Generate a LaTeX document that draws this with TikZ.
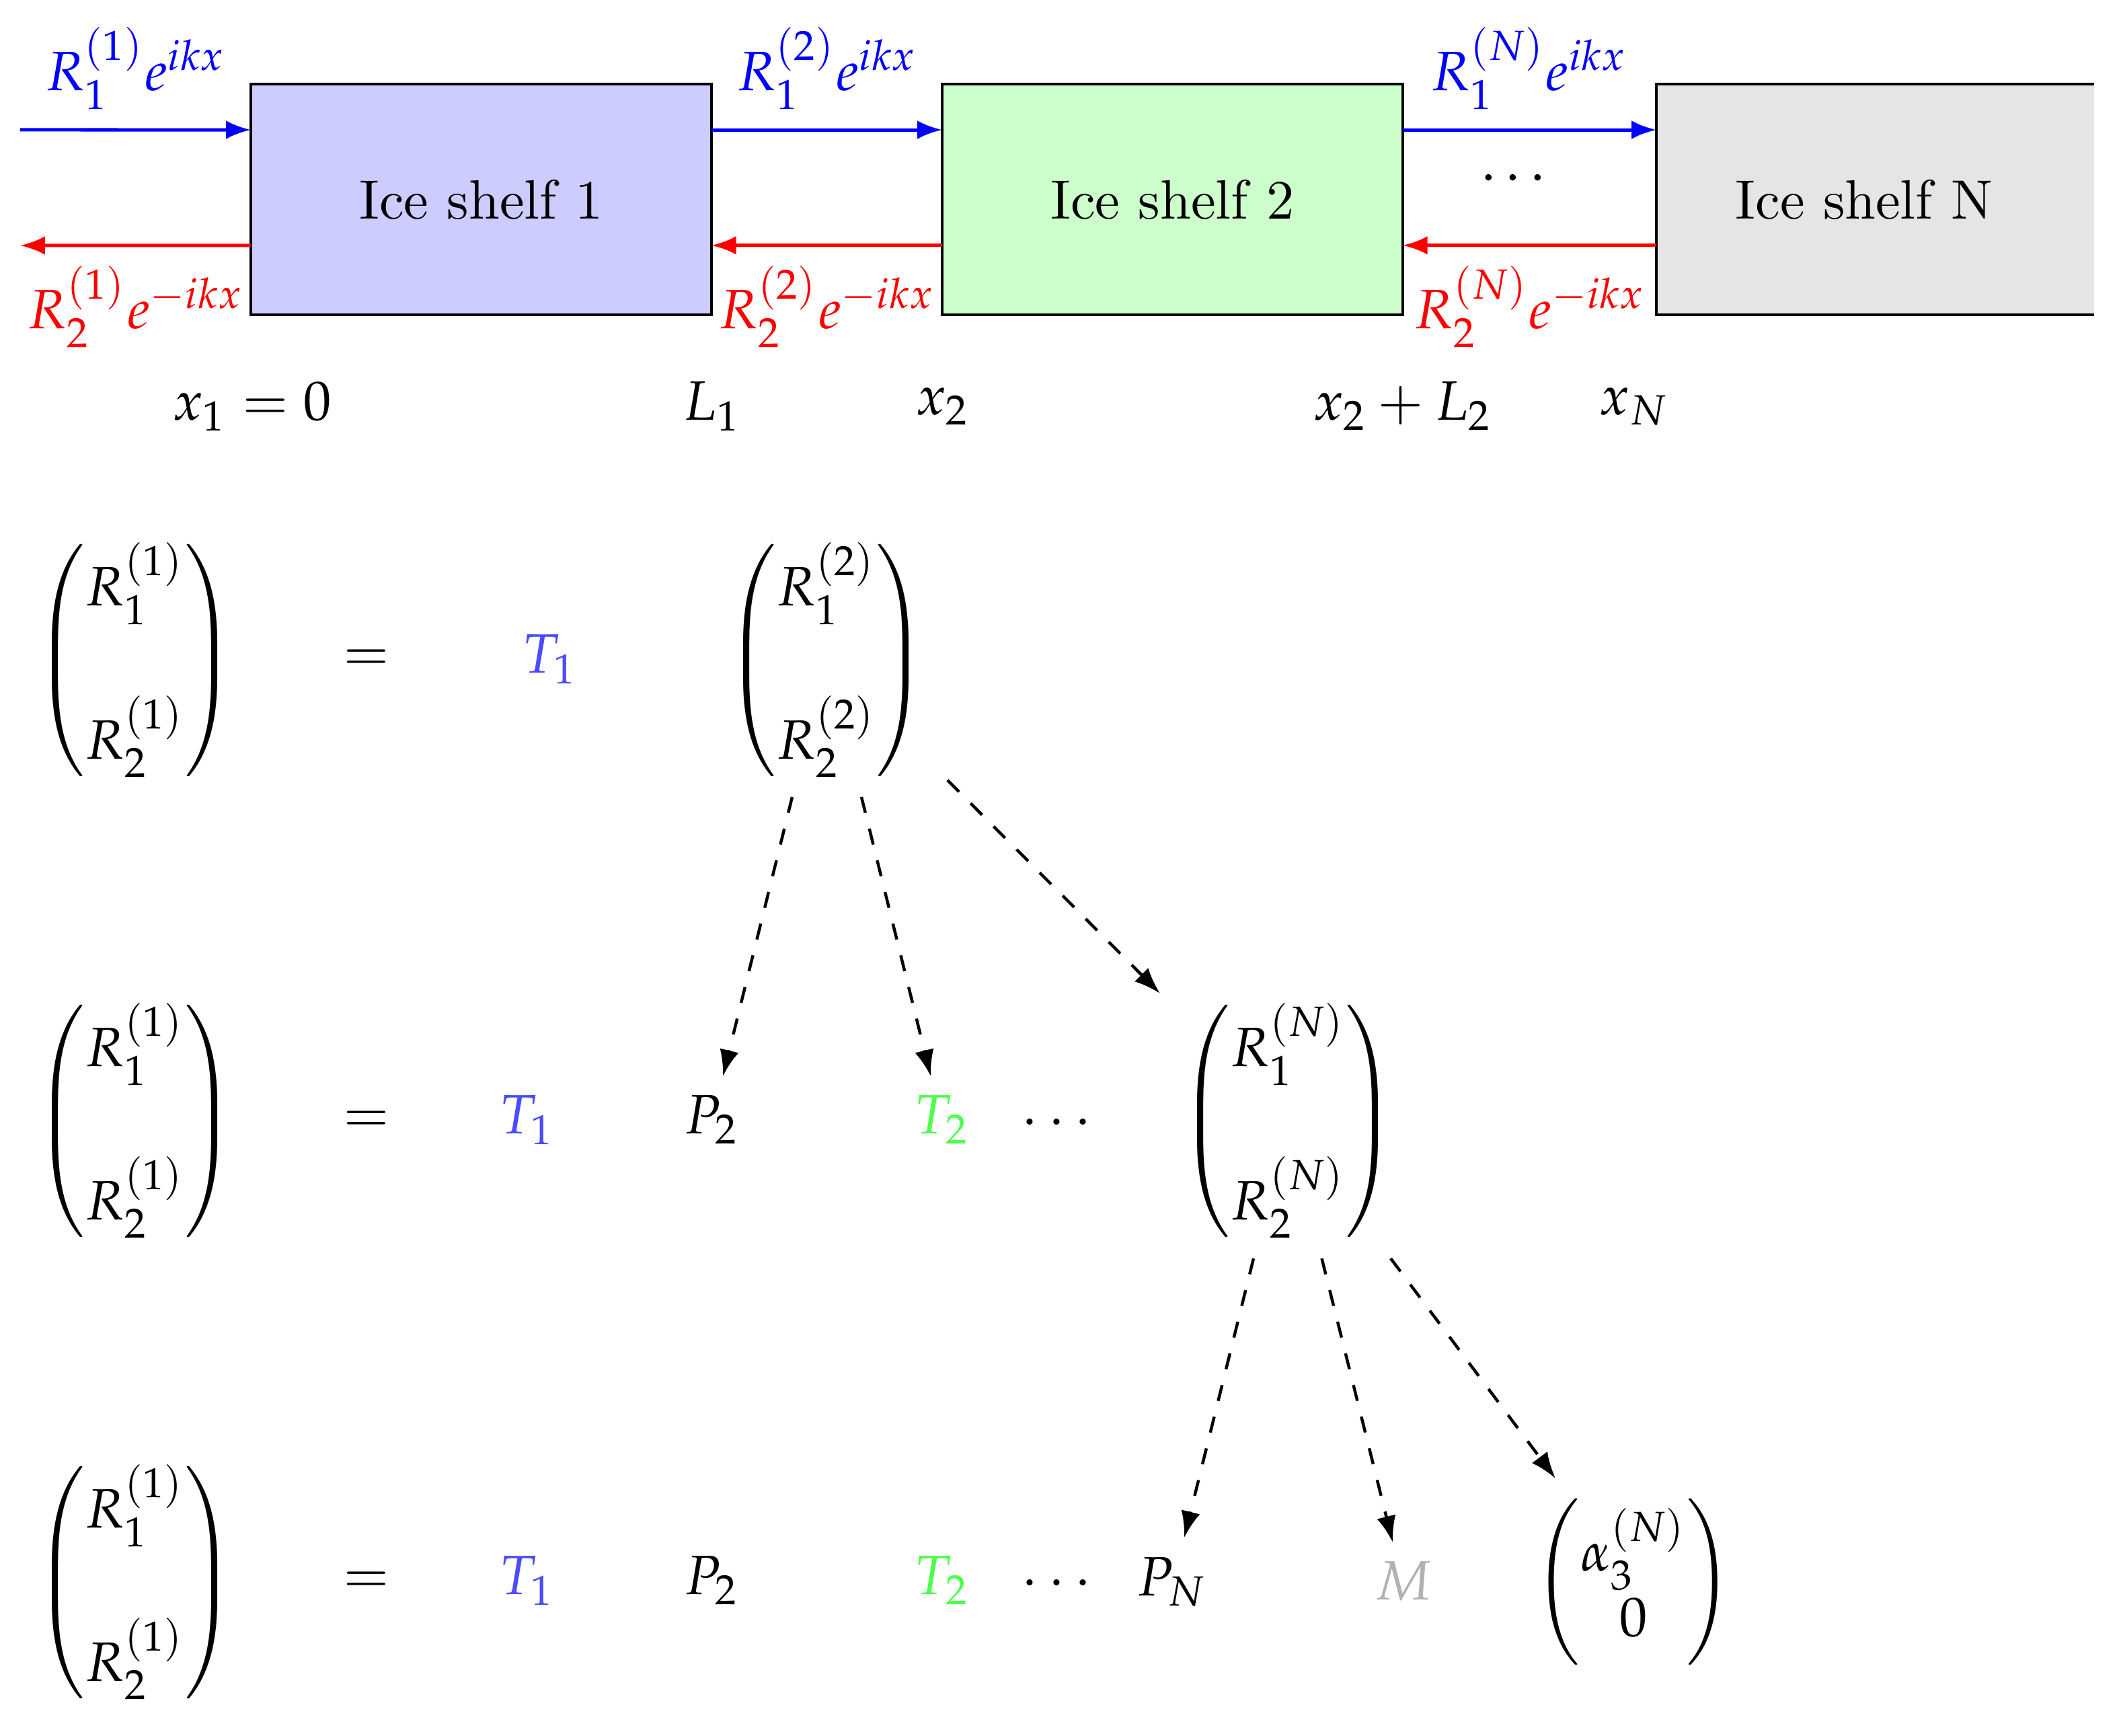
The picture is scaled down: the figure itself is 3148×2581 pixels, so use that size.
\documentclass[tikz,border=0pt]{standalone}
\usepackage{amsmath}
\usepackage{mathpazo}
\usetikzlibrary{arrows.meta}
\tikzset{
  x=0.0043478cm,y=-0.0043478cm,
  every node/.style={font=\fontsize{10.2}{12}\selectfont,inner sep=0pt,outer sep=0pt},
  shelf/.style={minimum width=2.978cm,minimum height=1.491cm,draw=black,line width=0.5pt,anchor=north west},
  wave/.style={line width=0.62pt,-{Latex[length=1.6mm,width=1.2mm]}},
  lead/.style={wave,blue},
  back/.style={wave,red},
  dasharrow/.style={line width=0.55pt,dash pattern=on 3pt off 3pt,-{Latex[length=1.7mm,width=1.25mm]}},
}
\definecolor{mgray}{gray}{0.7}
\newcommand{\vecR}[1]{\left(\vcenter{\hbox{\rule{0pt}{41.5pt}}}\begin{matrix}R_1^{(#1)}\\[13pt]R_2^{(#1)}\end{matrix}\right)}
\begin{document}
\begin{tikzpicture}
\useasboundingbox (0,0) rectangle (3148,2581);
% ice shelves
\node[shelf,fill=blue!20] (s1) at (373,125) {};
\node at (s1.center) (s1t) {Ice shelf 1};
\node[shelf,fill=green!20] (s2) at (1401,125) {};
\node at (s2.center) (s2t) {Ice shelf 2};
\node[shelf,draw=none,fill=black!10,minimum width=2.830cm] (sN) at (2463,125) {};
\draw[line width=0.5pt] (sN.north east) -- (sN.north west) -- (sN.south west) -- (sN.south east);
\node (sNt) at (2772,297) {Ice shelf N};
% free ends and contact points
\coordinate (in) at (30,193);
\coordinate (out) at (30,365);
\coordinate (s1ib) at ([yshift=-0.296cm]s1.north west);
\coordinate (s1ob) at ([yshift=-0.296cm]s1.north east);
\coordinate (s2ib) at ([yshift=-0.296cm]s2.north west);
\coordinate (s2ob) at ([yshift=-0.296cm]s2.north east);
\coordinate (sNib) at ([yshift=-0.296cm]sN.north west);
\coordinate (s1ir) at ([yshift=0.448cm]s1.south west);
\coordinate (s1or) at ([yshift=0.448cm]s1.south east);
\coordinate (s2ir) at ([yshift=0.448cm]s2.south west);
\coordinate (s2or) at ([yshift=0.448cm]s2.south east);
\coordinate (sNir) at ([yshift=0.448cm]sN.south west);
\draw[lead] (in) -- (s1ib);
\draw[lead] (s1ob) -- (s2ib);
\draw[lead] (s2ob) -- (sNib);
\draw[back] (s1ir) -- (out);
\draw[back] (s2ir) -- (s1or);
\draw[back] (sNir) -- (s2or);
% wave labels
\node[blue] (l11) at (202,102) {$R_1^{(1)}e^{ikx}$};
\node[blue] (l12) at (1230,102) {$R_1^{(2)}e^{ikx}$};
\node[blue] (l1N) at (2274,102) {$R_1^{(N)}e^{ikx}$};
\node[red] (l21) at (202,456) {$R_2^{(1)}e^{-ikx}$};
\node[red] (l22) at (1230,456) {$R_2^{(2)}e^{-ikx}$};
\node[red] (l2N) at (2275,456) {$R_2^{(N)}e^{-ikx}$};
\node (gap) at (2257,264) {$\dots$};
% positions
\node[anchor=base] (x1) at (375,625) {$x_1=0$};
\node[anchor=base] (L1) at (1059,625) {$L_1$};
\node[anchor=base] (x2) at (1402,617) {$x_2$};
\node[anchor=base] (x2L) at (2086,625) {$x_2+L_2$};
\node[anchor=base] (xN) at (2430,617) {$x_N$};
% row 1
\node (m1) at (201,982) {$\vecR{1}$};
\node (e1) at (545,982) {$=$};
\node[blue!70,anchor=base] (T1a) at (818,1001) {$T_1$};
\node (m1b) at (1229,982) {$\vecR{2}$};
% row 2
\node (m2) at (201,1667) {$\vecR{1}$};
\node (e2) at (545,1668) {$=$};
\node[blue!70,anchor=base] (T1b) at (784,1686) {$T_1$};
\node[anchor=base] (P2b) at (1058,1686) {$P_2$};
\node[green!70,anchor=base] (T2b) at (1401,1686) {$T_2$};
\node (db) at (1578,1670) {$\cdots$};
\node (m2b) at (1915,1667) {$\vecR{N}$};
% row 3
\node (m3) at (201,2353) {$\vecR{1}$};
\node (e3) at (545,2353) {$=$};
\node[blue!70,anchor=base] (T1c) at (784,2371) {$T_1$};
\node[anchor=base] (P2c) at (1058,2371) {$P_2$};
\node[green!70,anchor=base] (T2c) at (1401,2371) {$T_2$};
\node (dc) at (1578,2355) {$\cdots$};
\node[anchor=base] (PN) at (1743,2373) {$P_N$};
\node[mgray,anchor=base] (M) at (2087,2379) {$M$};
\node (al) at (2429,2352) {$\begin{pmatrix}\alpha_3^{(N)}\\0\end{pmatrix}$};
% dashed links
\draw[dasharrow] ([shift={(-51,203)}]m1b.center) -- ([shift={(17,-86)}]P2b.base);
\draw[dasharrow] ([shift={(52,203)}]m1b.center) -- ([shift={(-17,-86)}]T2b.base);
\draw[dasharrow] ([shift={(180,178)}]m1b.center) -- ([shift={(-190,-190)}]m2b.center);
\draw[dasharrow] ([shift={(-51,204)}]m2b.center) -- ([shift={(18,-87)}]PN.base);
\draw[dasharrow] ([shift={(50.5,204)}]m2b.center) -- ([shift={(-16,-86)}]M.base);
\draw[dasharrow] ([shift={(153,204)}]m2b.center) -- ([shift={(-116,-154)}]al.center);
\end{tikzpicture}
\end{document}
